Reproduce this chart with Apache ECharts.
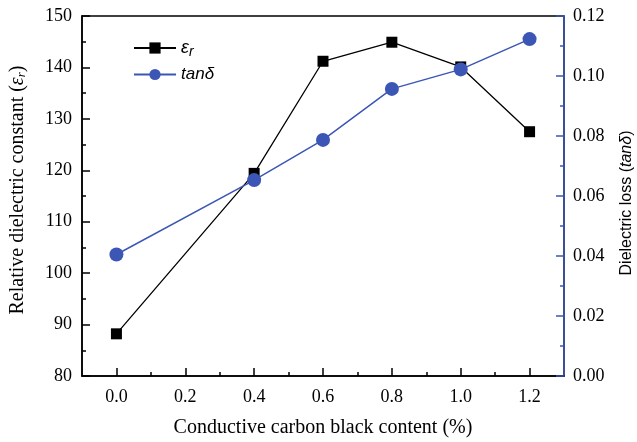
<!DOCTYPE html>
<html>
<head>
<meta charset="utf-8">
<script src="https://cdn.jsdelivr.net/npm/echarts@6/dist/echarts.min.js"></script>
<style>html,body{margin:0;padding:0;background:#fff}#c{width:637px;height:442px}</style>
</head>
<body>
<div id="c"></div>
<script>
var xValues = [0.0, 0.4, 0.6, 0.8, 1.0, 1.2];
var epsilonR = [88.2, 119.4, 141.2, 144.9, 140.1, 127.5];
var tanDelta = [0.0405, 0.0653, 0.0787, 0.0957, 0.1022, 0.1123];
var xMajorTicks = [0.0, 0.2, 0.4, 0.6, 0.8, 1.0, 1.2];
var xMinorTicks = [0.1, 0.3, 0.5, 0.7, 0.9, 1.1];

var BLUE = '#3b56b5';
var SERIF = '"Liberation Serif","Times New Roman",serif';
var SANS = '"Liberation Sans",Arial,sans-serif';

var chart = echarts.init(document.getElementById('c'), null, {renderer: 'canvas'});
function pairs(xs, ys) { return xs.map(function (x, i) { return [x, ys[i]]; }); }

chart.setOption({
  animation: false,
  backgroundColor: '#fff',
  grid: {left: 82, right: 73, top: 16, bottom: 66, show: true, borderColor: '#000', borderWidth: 1.5,
         outerBoundsMode: 'none', containLabel: false},
  legend: {
    orient: 'vertical', left: 128, top: 34, itemWidth: 42, itemHeight: 14, itemGap: 7,
    data: ['εr', 'tanδ'],
    formatter: function (n) { return n === 'εr' ? '{i|ε}{s|r}' : '{t|tanδ}'; },
    textStyle: {
      rich: {
        i: {fontFamily: SANS, fontStyle: 'italic', fontSize: 18, color: '#000'},
        s: {fontFamily: SANS, fontStyle: 'italic', fontSize: 14, color: '#000', verticalAlign: 'bottom', padding: [8, 0, 0, 0]},
        t: {fontFamily: SANS, fontStyle: 'italic', fontSize: 17, color: '#000'}
      }
    }
  },
  xAxis: [{
    type: 'value', min: -0.1, max: 1.3, position: 'bottom',
    name: 'Conductive carbon black content (%)', nameLocation: 'middle', nameGap: 42,
    nameTextStyle: {fontFamily: SERIF, fontSize: 20, color: '#000'},
    axisLine: {onZero: false, lineStyle: {color: '#000', width: 1.5}},
    axisTick: {inside: true, length: 8, customValues: xMajorTicks, lineStyle: {color: '#000', width: 1.5}},
    axisLabel: {customValues: xMajorTicks, margin: 12, fontFamily: SERIF, fontSize: 18, color: '#000',
      formatter: function (v) { return v.toFixed(1); }},
    splitLine: {show: false}
  }, {
    type: 'value', min: -0.1, max: 1.3, position: 'bottom',
    axisLine: {show: false, onZero: false},
    axisTick: {inside: true, length: 4, customValues: xMinorTicks, lineStyle: {color: '#000', width: 1.5}},
    axisLabel: {show: false},
    splitLine: {show: false}
  }],
  yAxis: [{
    type: 'value', min: 80, max: 150, interval: 10, position: 'left',
    name: 'Relative dielectric constant ({e|ε}{s|r})', nameLocation: 'middle', nameGap: 54,
    nameTextStyle: {fontFamily: SERIF, fontSize: 20, color: '#000', padding: [0, 0, 0, 12],
      rich: {
        e: {fontFamily: SERIF, fontSize: 20, fontStyle: 'italic', color: '#000'},
        s: {fontFamily: SERIF, fontSize: 13, fontStyle: 'italic', color: '#000', verticalAlign: 'bottom', padding: [6, 0, 0, 0]}
      }},
    axisLine: {show: true, onZero: false, lineStyle: {color: '#000', width: 1.5}},
    axisTick: {inside: true, length: 8, lineStyle: {color: '#000', width: 1.5}},
    minorTick: {show: true, splitNumber: 2, length: 4, lineStyle: {color: '#000', width: 1.5}},
    axisLabel: {margin: 10, fontFamily: SERIF, fontSize: 18, color: '#000'},
    splitLine: {show: false}
  }, {
    type: 'value', min: 0, max: 0.12, interval: 0.02, position: 'right',
    name: 'Dielectric loss ({it|tanδ})', nameLocation: 'middle', nameGap: 55, nameRotate: 90,
    nameTextStyle: {fontFamily: SANS, fontSize: 16, color: '#000', padding: [0, 14, 0, 0],
      rich: {it: {fontFamily: SANS, fontSize: 16, fontStyle: 'italic', color: '#000'}}},
    axisLine: {show: true, onZero: false, lineStyle: {color: BLUE, width: 1.5}},
    axisTick: {inside: true, length: 8, lineStyle: {color: BLUE, width: 1.5}},
    minorTick: {show: true, splitNumber: 2, length: 4, lineStyle: {color: BLUE, width: 1.5}},
    axisLabel: {margin: 9, fontFamily: SERIF, fontSize: 18, color: '#000',
      formatter: function (v) { return v.toFixed(2); }},
    splitLine: {show: false}
  }],
  series: [{
    name: 'εr', type: 'line', xAxisIndex: 0, yAxisIndex: 0,
    data: pairs(xValues, epsilonR),
    symbol: 'rect', symbolSize: 11,
    itemStyle: {color: '#000'},
    lineStyle: {color: '#000', width: 1.3}
  }, {
    name: 'tanδ', type: 'line', xAxisIndex: 0, yAxisIndex: 1,
    data: pairs(xValues, tanDelta),
    symbol: 'circle', symbolSize: 14,
    itemStyle: {color: BLUE},
    lineStyle: {color: BLUE, width: 1.5}
  }]
});
</script>
</body>
</html>
